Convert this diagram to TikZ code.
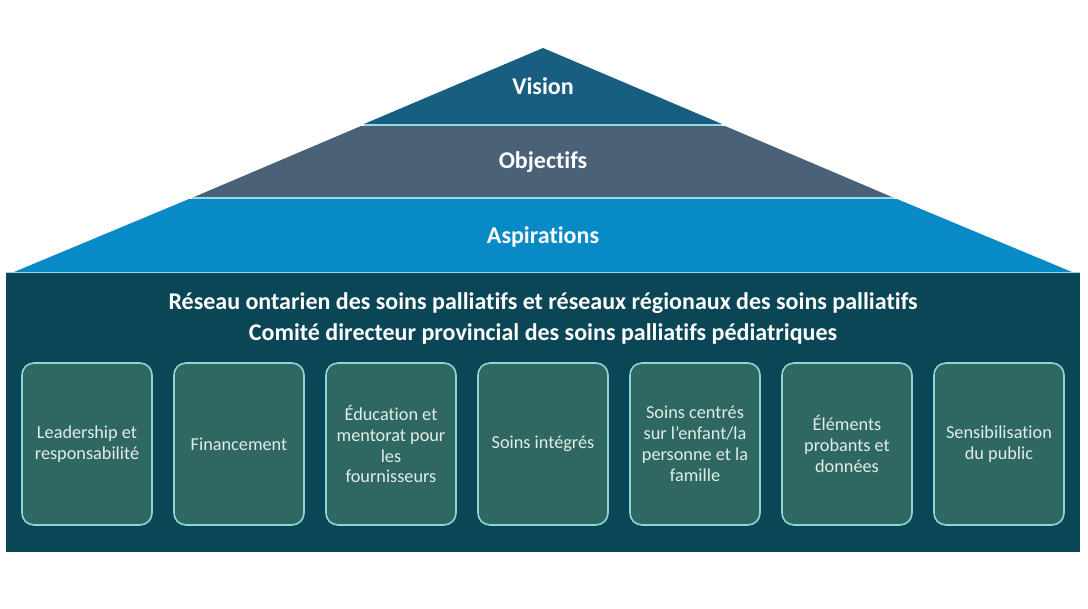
\documentclass[tikz,border=0pt]{standalone}
\usepackage{fontspec}
\setmainfont{Carlito}[Ligatures=NoCommon]
\usetikzlibrary{positioning}
\definecolor{visionblue}{RGB}{24,94,128}
\definecolor{objslate}{RGB}{74,97,119}
\definecolor{aspblue}{RGB}{8,138,198}
\definecolor{basedark}{RGB}{10,70,86}
\definecolor{pillarfill}{RGB}{47,104,99}
\definecolor{pillaredge}{RGB}{140,214,214}
\definecolor{sepline}{RGB}{150,218,228}
\definecolor{pillartext}{RGB}{226,236,232}

\begin{document}
\begin{tikzpicture}[x=0.75pt,y=-0.75pt,node distance=114pt,
    pillar/.style={draw=pillaredge,line width=1.2pt,fill=pillarfill,rounded corners=9pt,minimum width=97.5pt,minimum height=121.5pt,align=center,text=pillartext,font=\fontsize{13.7}{15.7}\selectfont},
    layer/.style={text=white,font=\fontsize{18}{21}\selectfont\bfseries},
    title/.style={text=white,font=\fontsize{18}{21}\selectfont\bfseries}]

                    \useasboundingbox (0,0) rectangle (1088,608);

                    \fill[visionblue] (543,48) -- (722,124) -- (364,124) -- cycle;
                    \fill[objslate] (361,126) -- (725,126) -- (892,197) -- (194,197) -- cycle;
                    \fill[aspblue] (189,199) -- (897,199) -- (1072,272) -- (14,272) -- cycle;
                    \fill[basedark] (6,272) rectangle (1080,552);

                    \draw[sepline,line width=1pt] (364,125) -- (722,125);
                    \draw[sepline,line width=1pt] (192,198) -- (894,198);
                    \draw[sepline,line width=1pt] (6,272.5) -- (1080,272.5);

                    \node (8) [layer] at (543,86) {Vision};
                    \node (9) [layer] at (543,162) {Objectifs};
                    \node (10) [layer] at (543,237) {Aspirations};

                    \node (11) [title] at (543,303) {Réseau ontarien des soins palliatifs et réseaux régionaux des soins palliatifs};
                    \node (12) [title] at (543,334) {Comité directeur provincial des soins palliatifs pédiatriques};

                    \node (1) [pillar] at (87,444) {Leadership et\\responsabilité};
                    \node (2) [pillar, right of=1] {Financement};
                    \node (3) [pillar, right of=2] {Éducation et\\mentorat pour\\les\\fournisseurs};
                    \node (4) [pillar, right of=3] {Soins intégrés};
                    \node (5) [pillar, right of=4] {Soins centrés\\sur l’enfant/la\\personne et la\\famille};
                    \node (6) [pillar, right of=5] {Éléments\\probants et\\données};
                    \node (7) [pillar, right of=6] {Sensibilisation\\du public};
                \end{tikzpicture}
\end{document}
